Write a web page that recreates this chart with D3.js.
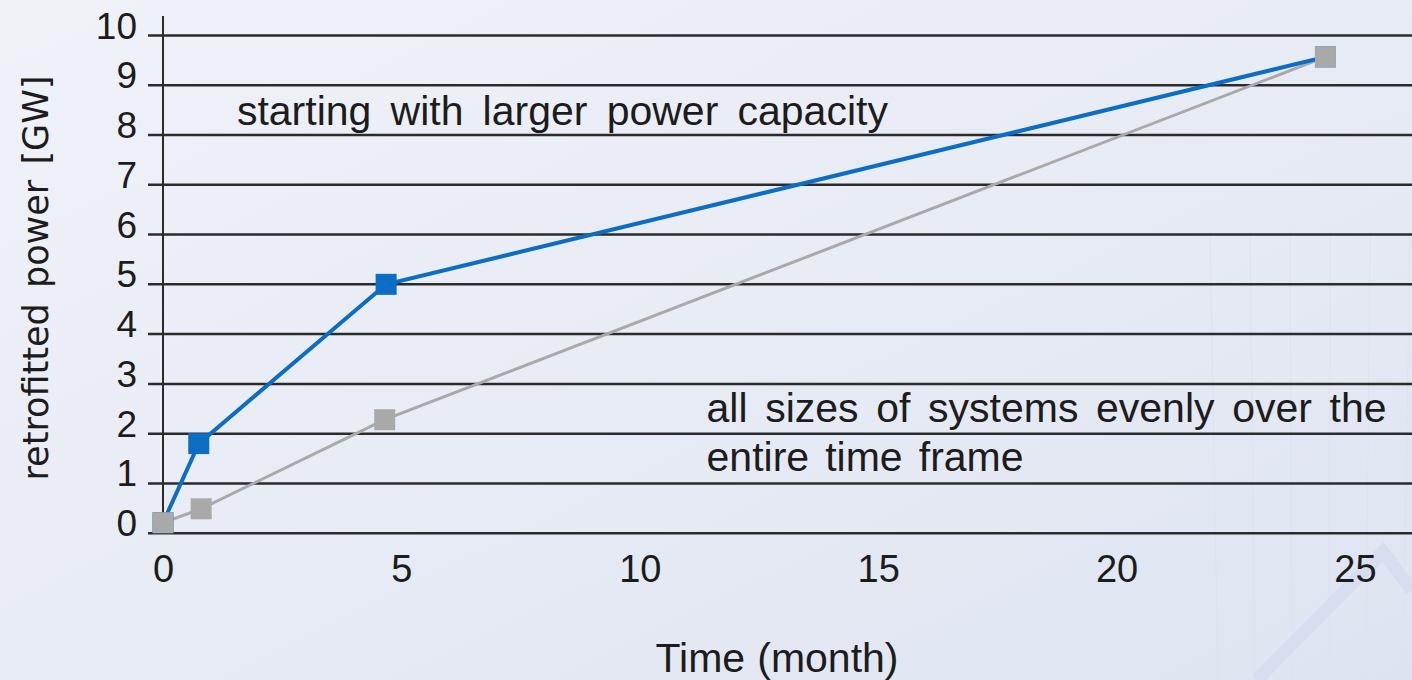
<!DOCTYPE html>
<html>
<head>
<meta charset="utf-8">
<script src="https://cdn.jsdelivr.net/npm/d3@7"></script>
<style>
  html, body { margin: 0; padding: 0; overflow: hidden; background: #e8ecf5; }
  text { font-family: "Liberation Sans", Arial, Helvetica, sans-serif; fill: #1c1c1c; }
</style>
</head>
<body>
<svg id="chart" width="1412" height="680"></svg>
<script>
// series (x = month, y = GW)
var largerMonths = [0, 0.75, 4.68, 24.38],
    largerPower  = [0.2, 1.79, 4.99, 9.56];
var evenMonths   = [0, 0.8, 4.65, 24.38],
    evenPower    = [0.2, 0.48, 2.27, 9.56];
var xTicks = [0, 5, 10, 15, 20, 25],
    yTicks = [0, 1, 2, 3, 4, 5, 6, 7, 8, 9, 10];
var notes = [
  {text: 'starting with larger power capacity', x: 1.55, y: 8.2, w: 651},
  {text: 'all sizes of systems evenly over the', x: 11.4, y: 2.23, w: 680},
  {text: 'entire time frame', x: 11.4, y: 1.24, w: 317}
];
var xTitle = 'Time (month)',
    yTitle = 'retrofitted power [GW]';

var
  W = 1412, H = 680,
  svg = d3.select('#chart'),
  xScale = d3.scaleLinear().domain([0, 25]).range([163, 1355]),
  yScale = d3.scaleLinear().domain([0, 10]).range([532.7, 35]),
  blue = '#0b6dc3',
  grey = '#a9a9a9',
  gridLeft = 148
  ;

// background
var defs = svg.append('defs');
var grad = defs.append('linearGradient')
  .attr('id', 'bg').attr('x1', 0).attr('y1', 0).attr('x2', 1).attr('y2', 1);
grad.append('stop').attr('offset', 0).attr('stop-color', '#f0f2f8');
grad.append('stop').attr('offset', 0.6).attr('stop-color', '#e6eaf4');
grad.append('stop').attr('offset', 1).attr('stop-color', '#dde4f1');
svg.append('rect').attr('width', W).attr('height', H).attr('fill', 'url(#bg)');

// faint decoration bottom right
var deco = svg.append('g').attr('fill', 'none');
d3.range(1210, 1412, 40).forEach(function(x, i) {
  deco.append('line').attr('x1', x).attr('x2', x + 8 - i * 3).attr('y1', 230).attr('y2', 680)
    .attr('stroke', '#dce3f0').attr('stroke-width', 1);
});
deco.append('path')
  .attr('d', 'M1257,680 L1383,552 L1412,590')
  .attr('stroke', '#d3dcee').attr('stroke-width', 13).attr('opacity', 0.8);

// horizontal grid + y labels
var yAxis = d3.axisLeft(yScale)
  .tickValues(yTicks)
  .tickSize(-(W - gridLeft))
  .tickPadding(11);
var gy = svg.append('g')
  .attr('transform', 'translate(' + gridLeft + ',0)')
  .call(yAxis);
gy.select('.domain').remove();
gy.selectAll('.tick line')
  .attr('stroke', '#2b2b2b')
  .attr('stroke-width', 2.5);
gy.selectAll('.tick text')
  .attr('dy', 3)
  .attr('font-size', '37px')
  .attr('font-family', null)
  .attr('fill', '#1c1c1c');

// vertical axis line
svg.append('line')
  .attr('x1', xScale(0)).attr('x2', xScale(0))
  .attr('y1', 16).attr('y2', yScale(0))
  .attr('stroke', '#2b2b2b').attr('stroke-width', 2);

// x labels
var xAxis = d3.axisBottom(xScale).tickValues(xTicks).tickSize(0);
var gx = svg.append('g')
  .attr('transform', 'translate(0,' + yScale(0) + ')')
  .call(xAxis);
gx.select('.domain').remove();
gx.selectAll('.tick text')
  .attr('y', 49)
  .attr('dy', 0)
  .attr('font-size', '38px')
  .attr('font-family', null)
  .attr('fill', '#1c1c1c');

// series
var line = d3.line().x(d => xScale(d[0])).y(d => yScale(d[1]));
var larger = d3.zip(largerMonths, largerPower),
    even = d3.zip(evenMonths, evenPower);

svg.append('path').datum(even)
  .attr('d', line).attr('fill', 'none')
  .attr('stroke', grey).attr('stroke-width', 3);
svg.append('path').datum(larger)
  .attr('d', line).attr('fill', 'none')
  .attr('stroke', blue).attr('stroke-width', 4);

var sq = 21;
svg.selectAll('.mk-blue')
  .data(larger)
  .enter()
  .append('rect')
  .attr('class', 'mk-blue')
  .attr('x', d => xScale(d[0]) - sq / 2)
  .attr('y', d => yScale(d[1]) - sq / 2)
  .attr('width', sq).attr('height', sq)
  .attr('fill', blue);
svg.selectAll('.mk-grey')
  .data(even)
  .enter()
  .append('rect')
  .attr('class', 'mk-grey')
  .attr('x', d => xScale(d[0]) - sq / 2)
  .attr('y', d => yScale(d[1]) - sq / 2)
  .attr('width', sq).attr('height', sq)
  .attr('fill', grey);

// spread words so a line fills its width, like the original
function fit(sel, width) {
  sel.each(function() {
    var t = d3.select(this),
      n = (t.text().match(/ /g) || []).length,
      w = this.getComputedTextLength();
    if (n) t.style('word-spacing', Math.max(0, (width - w) / n) + 'px');
  });
}

notes.forEach(function(n) {
  svg.append('text')
    .attr('x', xScale(n.x))
    .attr('y', yScale(n.y))
    .attr('font-size', '41px')
    .text(n.text)
    .call(fit, n.w);
});

svg.append('text')
  .attr('x', 777).attr('y', 672)
  .attr('text-anchor', 'middle')
  .attr('font-size', '41px')
  .text(xTitle)
  .call(fit, 243);

svg.append('text')
  .attr('transform', 'translate(48,278) rotate(-90)')
  .attr('text-anchor', 'middle')
  .attr('font-size', '35px')
  .style('font-family', '"DejaVu Sans", sans-serif')
  .text(yTitle)
  .call(fit, 405);
</script>
</body>
</html>
